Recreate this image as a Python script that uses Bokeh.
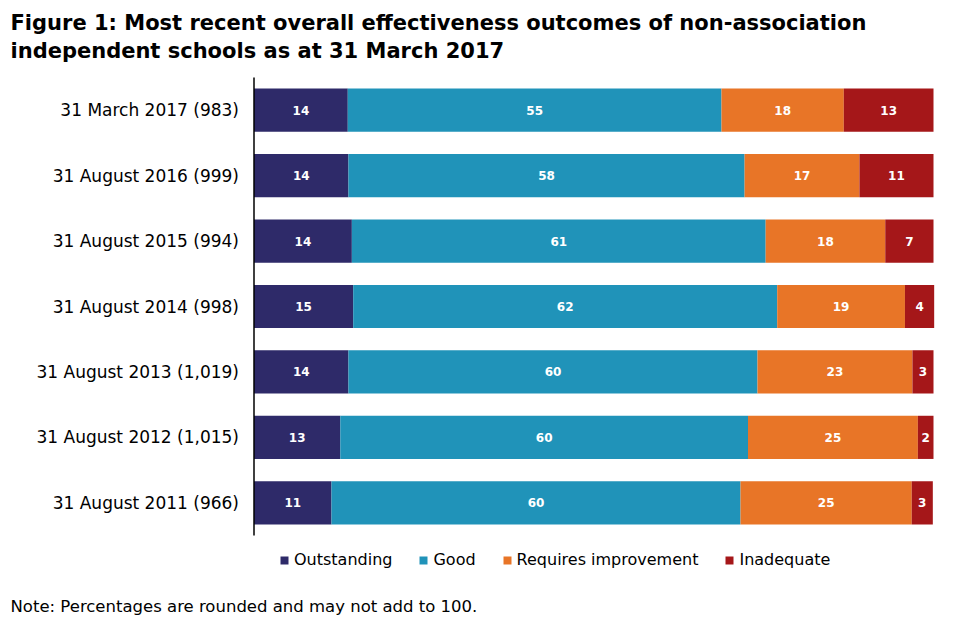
from bokeh.plotting import figure
from bokeh.models import ColumnDataSource, Legend, LegendItem, Range1d
from bokeh.core.properties import value
from bokeh.embed import file_html
from bokeh.resources import INLINE

# ---- data (percent of schools) ----
periods = ["31 March 2017 (983)", "31 August 2016 (999)", "31 August 2015 (994)",
           "31 August 2014 (998)", "31 August 2013 (1,019)", "31 August 2012 (1,015)",
           "31 August 2011 (966)"]
outstanding = [13.8, 13.9, 14.4, 14.6, 13.9, 12.7, 11.4]
good = [55.0, 58.3, 60.9, 62.4, 60.2, 60.0, 60.2]
requires_improvement = [18.0, 16.9, 17.6, 18.8, 22.8, 25.0, 25.2]
inadequate = [13.2, 10.9, 7.1, 4.3, 3.1, 2.3, 3.1]

series_names = ["Outstanding", "Good", "Requires improvement", "Inadequate"]
series_values = [outstanding, good, requires_improvement, inadequate]
colors = ["#2E2A69", "#2093B9", "#E87527", "#A51719"]

title_lines = ["Figure 1: Most recent overall effectiveness outcomes of non-association",
               "independent schools as at 31 March 2017"]
note_text = "Note: Percentages are rounded and may not add to 100."

FONT = "DejaVu Sans"

# ---- layout (pixels on the canvas) ----
W, H = 952, 632
AX_LEFT, AX_RIGHT = 253.5, 933.0   # 0% and 100%
AX_TOP, AX_BOTTOM = 77.0, 535.0

n = len(periods)
ypos = [n - 1 - i for i in range(n)]  # first period at top

sx = (AX_RIGHT - AX_LEFT) / 100.0
sy = (AX_BOTTOM - AX_TOP) / n
x0 = -AX_LEFT / sx
x1 = (W - AX_LEFT) / sx
ytop = (n - 0.5) + AX_TOP / sy
ybot = -0.5 - (H - AX_BOTTOM) / sy


def px_x(px):
    return x0 + px / sx


def px_y(py):
    return ytop - py / sy


data = {"y": ypos}
for name, vals in zip(series_names, series_values):
    data[name] = vals
source = ColumnDataSource(data)

p = figure(width=W, height=H, output_backend="svg", toolbar_location=None,
           x_range=Range1d(x0, x1), y_range=Range1d(ybot, ytop),
           x_axis_location=None, y_axis_location=None,
           min_border=0, min_border_left=0, min_border_right=0,
           min_border_top=0, min_border_bottom=0)
p.outline_line_color = None
p.grid.visible = False
p.background_fill_color = "white"
p.border_fill_color = "white"

renderers = p.hbar_stack(series_names, y="y", height=0.66, color=colors,
                         line_color=None, source=source)

# value labels
lx, ly, lt = [], [], []
for i in range(n):
    left = 0.0
    for vals in series_values:
        v = vals[i]
        lx.append(left + v / 2)
        ly.append(ypos[i])
        lt.append(str(int(round(v))))
        left += v
p.text(x=lx, y=ly, text=lt, text_color="white", text_font=value(FONT),
       text_font_style="bold", text_font_size="12px", text_align="center",
       text_baseline="middle")

# vertical axis line and category labels
p.segment(x0=[0], y0=[-0.5], x1=[0], y1=[n - 0.5], line_color="black", line_width=1.5)
p.text(x=[px_x(AX_LEFT - 15)] * n, y=ypos, text=periods, text_color="black",
       text_font=value(FONT), text_font_size="17px", text_align="right",
       text_baseline="middle")

# title and note
p.text(x=[px_x(10)] * 2, y=[px_y(22), px_y(50)], text=title_lines,
       text_color="black", text_font=value(FONT), text_font_style="bold",
       text_font_size="21px", text_align="left", text_baseline="middle")
p.text(x=[px_x(10)], y=[px_y(606)], text=[note_text], text_color="black",
       text_font=value(FONT), text_font_size="16.5px", text_align="left",
       text_baseline="middle")

# legend (location = bottom-left corner, from the bottom-left of the canvas)
items = [LegendItem(label=name, renderers=[r]) for name, r in zip(series_names, renderers)]
legend = Legend(items=items, orientation="horizontal", location=(279, H - 560 - 9),
                glyph_width=10, glyph_height=10, label_standoff=5, spacing=26,
                padding=0, margin=0, border_line_color=None, background_fill_alpha=0,
                label_text_font=FONT, label_text_font_size="16px",
                label_text_color="black", label_height=18)
p.add_layout(legend, "center")

open("out.html", "w").write(file_html(p, INLINE))
